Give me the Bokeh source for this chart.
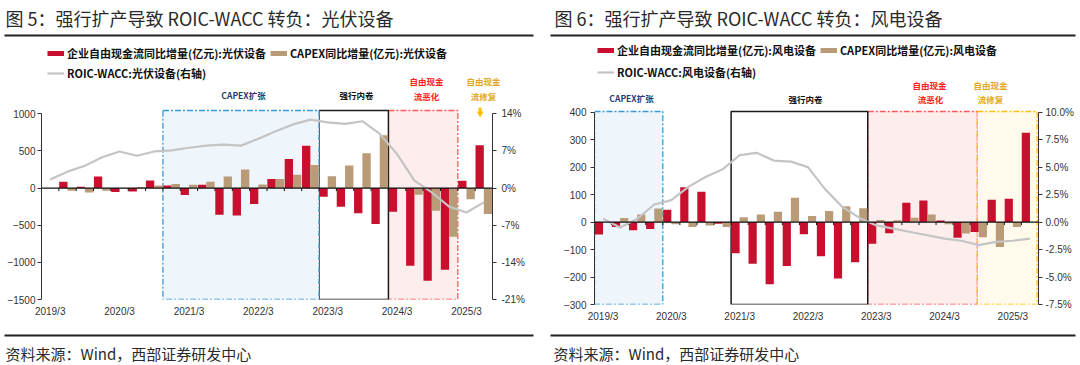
import numpy as np
from bokeh.plotting import figure
from bokeh.models import (Range1d, LinearAxis, FixedTicker, BoxAnnotation, Span,
                          Legend, LegendItem, ColumnDataSource, PrintfTickFormatter, Plot)
from bokeh.layouts import row, column
from bokeh.core.properties import value
from bokeh.transform import dodge
from bokeh.embed import file_html
from bokeh.resources import INLINE

# ---------------- data ----------------
quarters = ["2019/3", "2019/6", "2019/9", "2019/12",
            "2020/3", "2020/6", "2020/9", "2020/12",
            "2021/3", "2021/6", "2021/9", "2021/12",
            "2022/3", "2022/6", "2022/9", "2022/12",
            "2023/3", "2023/6", "2023/9", "2023/12",
            "2024/3", "2024/6", "2024/9", "2024/12",
            "2025/3", "2025/6"]
tick_labels = ["2019/3", "2020/3", "2021/3", "2022/3", "2023/3", "2024/3", "2025/3"]

# 光伏设备
pv_fcf = [None, 85, 18, 157, -54, -45, 103, 36, -94, 45, -359, -368, -215,
          121, 390, 570, -117, -250, -340, -485, -320, -1045, -1247, -1100, 100, 578]
pv_capex = [None, -36, -58, -36, -6, 15, 36, 54, 45, 85, 157, 251, 49,
            121, 180, 310, 160, 305, 470, 710, -5, -90, -305, -655, -152, -350]
pv_roic = [1.6, 3.1, 4.2, 5.8, 6.9, 6.1, 6.9, 7.1, 7.6, 8.0, 8.2, 8.0, 9.3,
           10.7, 12.0, 12.9, 12.4, 12.1, 12.6, 10.2, 6.4, 1.4, -0.8, -3.5, -4.6, -2.7]

# 风电设备
wind_fcf = [-45, -18, -30, -25, 45, 127, 110, -6, -113, -152, -226, -160, -44,
            -124, -205, -146, -79, -41, 70, 79, 6, -57, -36, 81, 85, 325]
wind_capex = [None, 15, 28, 49, -8, -18, -12, -18, 18, 28, 38, 89, 22,
              40, 58, 50, 8, 7, 16, 28, -8, -42, -55, -91, -18, None]
wind_roic = [0.3, -0.5, 0.3, 1.6, 2.0, 3.2, 4.1, 4.8, 6.1, 6.3, 5.6, 5.5, 5.0,
             3.0, 1.4, 0.4, -0.3, -0.6, -0.9, -1.2, -1.5, -1.7, -2.1, -1.8, -1.7, -1.5]

# ---------------- styles / layout ----------------
RED = "#C8102E"
TAN = "#B99B78"
GRAY = "#C4C4C4"
CJK = "Noto Sans CJK SC"
LAT = "Liberation Sans"
W = 540
HEAD_H, MAIN_H, FOOT_H = 106, 219, 40
MAIN_TOP = HEAD_H
NAVY = "#1F3B75"
NRED = "#FF2020"
GOLD = "#E0A820"
DASH = "6 2 2 2"
HAS_FA = "frame_align" in Plot.properties()


def arr(v):
    return np.array([np.nan if a is None else a for a in v], dtype=float)


def bare(h):
    p = figure(width=W, height=h, x_range=Range1d(0, W), y_range=Range1d(h, 0),
               toolbar_location=None, output_backend="svg", min_border=0,
               x_axis_type=None, y_axis_type=None, outline_line_color=None)
    p.grid.visible = False
    if HAS_FA:
        p.frame_align = False
    return p


def header(cfg):
    p = bare(HEAD_H)
    o = cfg["origin"]
    p.text(x=[cfg["title_x"] - o], y=[17.5], text=[cfg["title"]], text_font=value(CJK),
           text_font_size=value("18px"), text_baseline="middle", text_align="left",
           text_color="#2A2A2A")
    p.segment(x0=[cfg["rule"][0] - o], y0=[35], x1=[cfg["rule"][1] - o], y1=[35],
              line_width=2, line_color="#222222")
    # legend (dummy renderers lie outside the visible range)
    d_red = p.line(x=[-20, -10], y=[0, 0], line_color=RED, line_width=5)
    d_tan = p.line(x=[-20, -10], y=[0, 0], line_color=TAN, line_width=5)
    d_gry = p.line(x=[-20, -10], y=[0, 0], line_color=GRAY, line_width=2.2)
    leg_kw = dict(glyph_width=17, glyph_height=16, label_height=16, label_standoff=3,
                  spacing=4, padding=0, margin=0, border_line_color=None,
                  background_fill_alpha=0, label_text_font=CJK, label_text_font_style="bold",
                  label_text_font_size="11px", label_text_color="#111111")
    vx = cfg["leg_x"] - o
    r1c, r2c = cfg["leg_rows"]
    leg1 = Legend(items=[LegendItem(label=cfg["labels"][0], renderers=[d_red]),
                         LegendItem(label=cfg["labels"][1], renderers=[d_tan])],
                  orientation="horizontal", location=(vx, HEAD_H - (r1c + 8)), **leg_kw)
    leg2 = Legend(items=[LegendItem(label=cfg["labels"][2], renderers=[d_gry])],
                  orientation="horizontal", location=(vx, HEAD_H - (r2c + 8)), **leg_kw)
    p.add_layout(leg1)
    p.add_layout(leg2)
    # region notes
    for (txt, px, py_, col) in cfg["notes"]:
        p.text(x=[px - o], y=[py_], text=[txt], text_font=value(CJK),
               text_font_style="bold", text_font_size=value("8.5px"), text_color=col,
               text_align="center", text_baseline="middle")
    return p


def footer(cfg):
    p = bare(FOOT_H)
    o = cfg["origin"]
    p.segment(x0=[cfg["rule"][0] - o], y0=[10], x1=[cfg["rule"][1] - o], y1=[10],
              line_width=2, line_color="#222222")
    p.text(x=[cfg["foot_x"] - o], y=[28], text=["资料来源：Wind，西部证券研发中心"],
           text_font=value(CJK), text_font_size=value("15px"), text_baseline="middle",
           text_align="left", text_color="#2A2A2A")
    return p


def style_axis(ax, size="10px"):
    ax.axis_line_color = "#333333"
    ax.axis_line_width = 1
    ax.major_tick_line_color = "#333333"
    ax.major_tick_out = 4
    ax.major_tick_in = 0
    ax.minor_tick_line_color = None
    ax.major_label_text_font = LAT
    ax.major_label_text_font_size = size
    ax.major_label_text_color = "#333333"


def main_panel(cfg):
    n = len(quarters)
    o = cfg["origin"]
    fl, fr = cfg["frame_left"], cfg["frame_right"]
    pb = cfg["frame_bottom"]
    frame_h = pb - MAIN_TOP
    vb, vt, pt = cfg["vb"], cfg["vt"], cfg["pt"]
    scale = (vt - vb) / (pb - pt)
    Y1 = vb + scale * frame_h
    rb, rt = cfg["rb"], cfg["rt"]
    rscale = (rt - rb) / (pb - pt)
    R1 = rb + rscale * frame_h
    slot_w = (fr - fl) / n

    def yv(page_y):
        return Y1 - (page_y - MAIN_TOP) * scale

    def xs(page_x):
        return (page_x - fl) / slot_w - 0.5

    p = figure(width=W, height=MAIN_H, x_range=Range1d(-0.5, n - 0.5), y_range=Range1d(vb, Y1),
               toolbar_location=None, output_backend="svg",
               min_border_left=int(fl - o), min_border_right=int(o + W - fr),
               min_border_top=0, min_border_bottom=int(MAIN_H - frame_h),
               outline_line_color=None, background_fill_color="white", border_fill_color="white")
    p.grid.visible = False
    if HAS_FA:
        p.frame_align = False
    p.extra_y_ranges = {"r": Range1d(rb, R1)}

    for b in cfg["boxes"]:
        p.add_layout(BoxAnnotation(left=b["l"], right=b["r"], bottom=vb, top=yv(b["top"]),
                                   fill_color=b["fill"], fill_alpha=1.0, line_color=b["line"],
                                   line_alpha=1.0, line_width=b.get("lw", 1.3),
                                   line_dash=b.get("dash", "solid"), level="underlay"))

    src = ColumnDataSource(dict(i=list(range(n)), fcf=arr(cfg["fcf"]), capex=arr(cfg["capex"]),
                                roic=arr(cfg["roic"])))
    p.vbar(x=dodge("i", -0.24, range=p.x_range), top="fcf", bottom=0, width=0.48, source=src,
           fill_color=RED, line_color=None)
    p.vbar(x=dodge("i", 0.24, range=p.x_range), top="capex", bottom=0, width=0.48, source=src,
           fill_color=TAN, line_color=None)

    tick_len = 3 * scale
    bx = [k - 0.5 for k in range(1, n)]
    p.segment(x0=bx, y0=[0] * len(bx), x1=bx, y1=[-tick_len] * len(bx),
              line_color="#111111", line_width=1)
    p.add_layout(Span(location=0, dimension="width", line_color="#111111", line_width=1.3))

    p.line(x="i", y="roic", source=src, y_range_name="r", line_color=GRAY,
           line_width=2.2, line_join="round")

    ly = p.yaxis[0]
    style_axis(ly)
    ly.ticker = FixedTicker(ticks=cfg["lticks"])
    ly.bounds = (vb, vt)
    ly.major_label_standoff = cfg["lstand"]
    ry = LinearAxis(y_range_name="r", ticker=FixedTicker(ticks=cfg["rticks"]),
                    formatter=PrintfTickFormatter(format=cfg["rfmt"]))
    style_axis(ry)
    ry.bounds = (rb, rt)
    ry.major_label_standoff = cfg["rstand"]
    p.add_layout(ry, "right")

    xa = p.xaxis[0]
    xa.ticker = FixedTicker(ticks=[quarters.index(t) for t in tick_labels])
    xa.major_label_overrides = {quarters.index(t): t for t in tick_labels}
    xa.axis_line_color = None
    xa.major_tick_line_color = None
    xa.minor_tick_line_color = None
    xa.major_tick_out = 0
    xa.major_tick_in = 0
    xa.major_label_standoff = cfg["xstand"]
    xa.major_label_text_font = LAT
    xa.major_label_text_font_size = "10px"
    xa.major_label_text_color = "#333333"

    if cfg.get("arrow"):
        ax_ = xs(cfg["arrow"])
        p.segment(x0=[ax_], y0=[yv(107)], x1=[ax_], y1=[yv(111.5)], line_color="#FFC000",
                  line_width=3)
        p.scatter(x=[ax_], y=[yv(113)], marker="inverted_triangle", size=7,
                  fill_color="#FFC000", line_color=None)
    return p


left_cfg = dict(
    origin=0, title="图 5：强行扩产导致 ROIC-WACC 转负：光伏设备", title_x=5,
    rule=(4, 533), foot_x=5,
    frame_left=41, frame_right=492, frame_bottom=299,
    vb=-1500, vt=1000, pt=113.3, rb=-21, rt=14,
    lticks=[-1500, -1000, -500, 0, 500, 1000], rticks=[-21, -14, -7, 0, 7, 14], rfmt="%d%%",
    lstand=2, rstand=5, xstand=6,
    fcf=pv_fcf, capex=pv_capex, roic=pv_roic,
    labels=["企业自由现金流同比增量(亿元):光伏设备", "CAPEX同比增量(亿元):光伏设备",
            "ROIC-WACC:光伏设备(右轴)"],
    leg_x=47, leg_rows=(52.5, 73),
    boxes=[
        dict(l=19.5, r=23.5, top=110, fill="#FDEDED", line="#FF5A5A", dash=DASH),
        dict(l=15.5, r=19.5, top=110, fill="#FFFFFF", line="#1A1A1A", lw=1.5),
        dict(l=6.5, r=15.5, top=110, fill="#EEF5FB", line="#3A9AD9", dash=DASH),
    ],
    notes=[("CAPEX扩张", 243, 94.5, NAVY), ("强行内卷", 356, 94.5, "#111111"),
           ("自由现金", 426, 80, NRED), ("流恶化", 426, 95, NRED),
           ("自由现金", 483, 80, GOLD), ("流修复", 483, 95, GOLD)],
    arrow=479.6,
)

right_cfg = dict(
    origin=540, title="图 6：强行扩产导致 ROIC-WACC 转负：风电设备", title_x=554,
    rule=(550, 1075), foot_x=553,
    frame_left=594, frame_right=1038, frame_bottom=304,
    vb=-300, vt=400, pt=111.7, rb=-7.5, rt=10,
    lticks=[-300, -200, -100, 0, 100, 200, 300, 400],
    rticks=[-7.5, -5, -2.5, 0, 2.5, 5, 7.5, 10], rfmt="%.1f%%",
    lstand=4, rstand=3, xstand=6,
    fcf=wind_fcf, capex=wind_capex, roic=wind_roic,
    labels=["企业自由现金流同比增量(亿元):风电设备", "CAPEX同比增量(亿元):风电设备",
            "ROIC-WACC:风电设备(右轴)"],
    leg_x=597, leg_rows=(50, 71.5),
    boxes=[
        dict(l=15.5, r=21.92, top=111, fill="#FDEDED", line="#FF5A5A", dash=DASH),
        dict(l=21.92, r=25.42, top=111, fill="#FFFAEC", line="#FFC000", dash=DASH),
        dict(l=7.5, r=15.5, top=111, fill="#FFFFFF", line="#1A1A1A", lw=1.5),
        dict(l=-0.5, r=3.5, top=111, fill="#EEF5FB", line="#3A9AD9", dash=DASH),
    ],
    notes=[("CAPEX扩张", 631, 97.5, NAVY), ("强行内卷", 805, 98, "#111111"),
           ("自由现金", 929, 84, NRED), ("流恶化", 930, 98.5, NRED),
           ("自由现金", 990, 84, GOLD), ("流修复", 990, 98.5, GOLD)],
)

panels = []
for cfg in (left_cfg, right_cfg):
    panels.append(column(header(cfg), main_panel(cfg), footer(cfg)))
layout = row(*panels)

open("out.html", "w").write(file_html(layout, INLINE))
